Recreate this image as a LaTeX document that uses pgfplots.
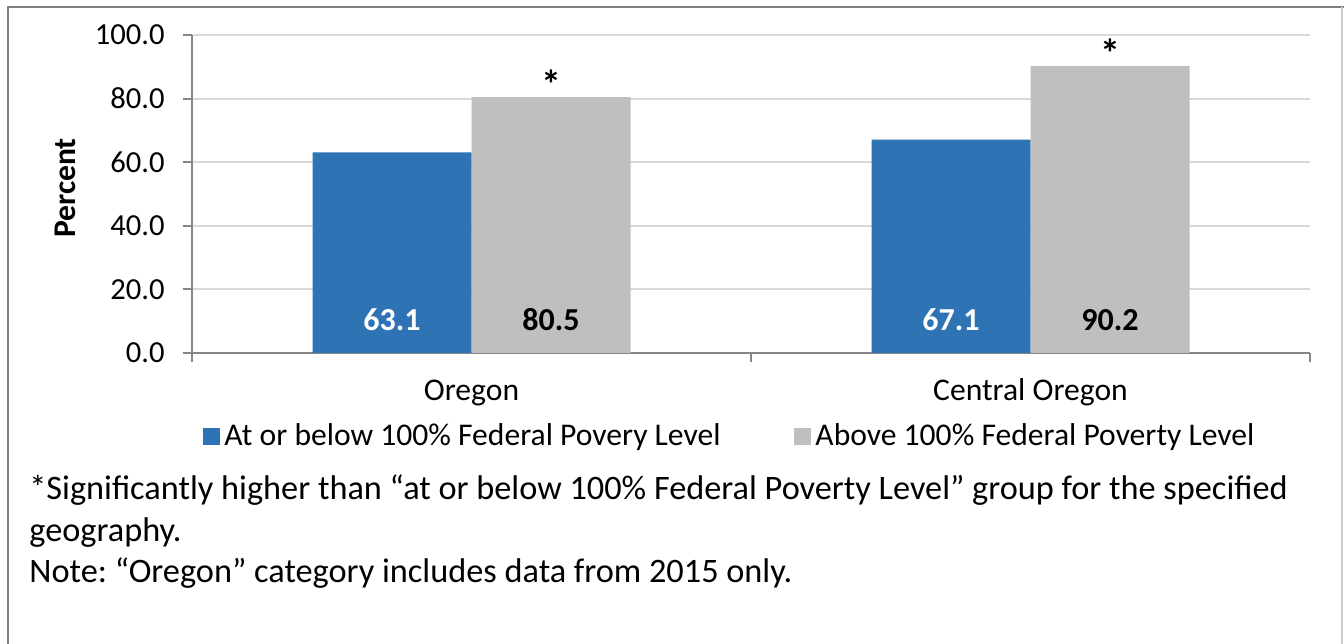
\documentclass[border=0pt]{standalone}
\usepackage{fontspec}
\setmainfont{Carlito}
\usepackage{pgfplots}
\pgfplotsset{compat=1.18}
\definecolor{barblue}{RGB}{46,116,181}
\definecolor{bargray}{RGB}{191,191,191}
\definecolor{gridgray}{RGB}{217,217,217}
\definecolor{axisgray}{RGB}{134,134,134}
\definecolor{framegray}{RGB}{128,128,128}
\frenchspacing
\begin{document}
\frenchspacing
\begin{tikzpicture}[x=1pt,y=1pt]
\useasboundingbox (0,0) rectangle (672,321.5);
\fill[white] (0,0) rectangle (672,321.5);
\draw[framegray, line width=1.2pt] (4,-5) -- (4,318) -- (680,318);
\draw[framegray!40, line width=0.8pt] (671,318) -- (671,-5);
\begin{axis}[
  at={(96pt,145pt)}, anchor=south west,
  scale only axis, width=559pt, height=159pt,
  ybar=0pt, bar width=79.5pt,
  xmin=-0.5, xmax=1.5, ymin=0, ymax=100,
  axis x line*=bottom, axis y line*=left,
  axis line style={axisgray, line width=1pt, -},
  /pgf/number format/assume math mode=true,
  font=\fontsize{15.8}{18}\selectfont,
  ytick={0,20,...,100},
  yticklabel={\pgfmathprintnumber[fixed,fixed zerofill,precision=1]{\tick}},
  yticklabel style={anchor=east, inner sep=0pt, xshift=-9pt, font=\fontsize{15.3}{18}\selectfont},
  ymajorgrids, grid style={gridgray, line width=1pt},
  xtick={-0.5,0.5,1.5}, xticklabels={},
  extra x ticks={0,1}, extra x tick labels={Oregon, Central Oregon},
  extra x tick style={major tick length=0pt, grid=none},
  xticklabel style={anchor=base, inner sep=0pt, yshift=-24pt},
  tick style={axisgray, line width=1pt},
  major tick length=4.5pt, tick align=outside,
  ylabel={\bfseries Percent},
  every axis y label/.style={at={(axis description cs:-0.1136,0.519)}, rotate=90, anchor=center, font=\fontsize{15.8}{18}\selectfont},
  legend style={at={(0.482,-0.262)}, anchor=center, draw=none, fill=none,
    font=\fontsize{15.8}{18}\selectfont, inner sep=0pt,
    /tikz/every even column/.append style={column sep=35pt}},
  legend columns=2, legend cell align=left,
]
\addplot[fill=barblue, draw=none, bar shift=-39.75pt,
  legend image code/.code={\fill[barblue] (0pt,-4.25pt) rectangle (8.5pt,4.25pt);},
  nodes near coords={\pgfmathprintnumber[fixed,fixed zerofill,precision=1]{\pgfplotspointmeta}},
  visualization depends on={rawy \as \rawy},
  every node near coord/.append style={anchor=center, text=white, font=\fontsize{16}{18}\selectfont\bfseries, yshift={-(\rawy-10.4)*1.59pt}}]
  coordinates {(0,63.1) (1,67.1)};
\addlegendentry{At or below 100\% Federal Povery Level}
\addplot[fill=bargray, draw=none, bar shift=39.75pt,
  legend image code/.code={\fill[bargray] (0pt,-4.25pt) rectangle (8.5pt,4.25pt);},
  nodes near coords={\pgfmathprintnumber[fixed,fixed zerofill,precision=1]{\pgfplotspointmeta}},
  visualization depends on={rawy \as \rawy},
  every node near coord/.append style={anchor=center, text=black, font=\fontsize{16}{18}\selectfont\bfseries, yshift={-(\rawy-10.4)*1.59pt}}]
  coordinates {(0,80.5) (1,90.2)};
\addlegendentry{Above 100\% Federal Poverty Level}
\addplot[fill=none, draw=none, bar shift=39.75pt, forget plot,
  nodes near coords={\bfseries *},
  every node near coord/.append style={anchor=south, inner sep=0pt, yshift=-1pt, text=black, font=\fontsize{20}{20}\selectfont}]
  coordinates {(0,80.5) (1,90.2)};
\end{axis}
\node[anchor=base west, inner sep=0pt, font=\fontsize{17.15}{20}\selectfont] at (14.5,71.5) {*Significantly higher than “at or below 100\% Federal Poverty Level” group for the specified};
\node[anchor=base west, inner sep=0pt, font=\fontsize{17.15}{20}\selectfont] at (14.5,51) {geography.};
\node[anchor=base west, inner sep=0pt, font=\fontsize{17.15}{20}\selectfont] at (14.5,30.5) {Note: “Oregon” category includes data from 2015 only.};
\end{tikzpicture}
\end{document}
